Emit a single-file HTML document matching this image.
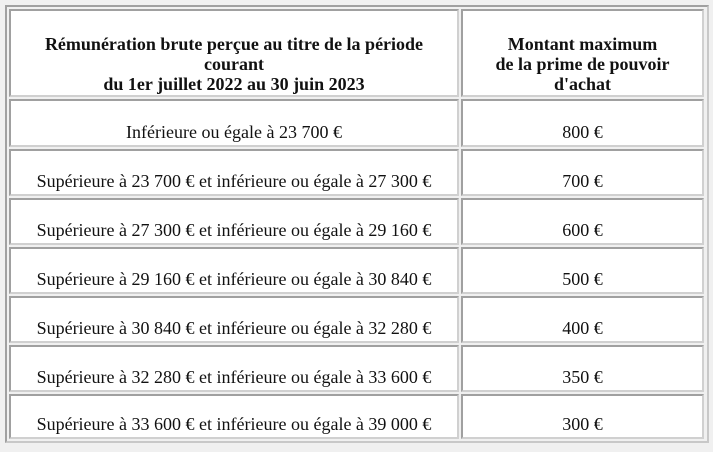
<!DOCTYPE html>
<html><head><meta charset="utf-8"><style>
body{margin:0;width:713px;height:452px;background:#f0f0f0;color:#111;position:relative;overflow:hidden}
.o{position:absolute;left:5px;top:5px;width:700px;height:434px;border:2px solid #a0a0a0;border-right-color:#c8c8c8;border-bottom-color:#c8c8c8;background:#f0f0f0}
.c{position:absolute;background:#fff;border:2px solid #a0a0a0;border-right-color:#d0d0d0;border-bottom-color:#d0d0d0;box-sizing:border-box;text-align:center}
.c span{position:absolute;left:0;right:0;bottom:3px;line-height:20px;white-space:nowrap;font-family:"Liberation Serif","Times New Roman",serif;font-size:18px}
.h span{font-weight:bold;bottom:1px}
</style></head><body>
<div class="o"></div>
<div class="c h" style="left:9px;top:9px;width:450px;height:88px"><span>Rémunération brute perçue au titre de la période<br>courant<br>du 1er juillet 2022 au 30 juin 2023</span></div>
<div class="c h" style="left:461px;top:9px;width:243px;height:88px"><span>Montant maximum<br>de la prime de pouvoir<br>d'achat</span></div>

<div class="c" style="left:9px;top:99px;width:450px;height:48px"><span>Inférieure ou égale à 23 700 €</span></div>
<div class="c" style="left:461px;top:99px;width:243px;height:48px"><span>800 €</span></div>
<div class="c" style="left:9px;top:149px;width:450px;height:47px"><span>Supérieure à 23 700 € et inférieure ou égale à 27 300 €</span></div>
<div class="c" style="left:461px;top:149px;width:243px;height:47px"><span>700 €</span></div>
<div class="c" style="left:9px;top:198px;width:450px;height:47px"><span>Supérieure à 27 300 € et inférieure ou égale à 29 160 €</span></div>
<div class="c" style="left:461px;top:198px;width:243px;height:47px"><span>600 €</span></div>
<div class="c" style="left:9px;top:247px;width:450px;height:47px"><span>Supérieure à 29 160 € et inférieure ou égale à 30 840 €</span></div>
<div class="c" style="left:461px;top:247px;width:243px;height:47px"><span>500 €</span></div>
<div class="c" style="left:9px;top:296px;width:450px;height:47px"><span>Supérieure à 30 840 € et inférieure ou égale à 32 280 €</span></div>
<div class="c" style="left:461px;top:296px;width:243px;height:47px"><span>400 €</span></div>
<div class="c" style="left:9px;top:345px;width:450px;height:47px"><span>Supérieure à 32 280 € et inférieure ou égale à 33 600 €</span></div>
<div class="c" style="left:461px;top:345px;width:243px;height:47px"><span>350 €</span></div>
<div class="c" style="left:9px;top:394px;width:450px;height:45px"><span>Supérieure à 33 600 € et inférieure ou égale à 39 000 €</span></div>
<div class="c" style="left:461px;top:394px;width:243px;height:45px"><span>300 €</span></div>
</body></html>
